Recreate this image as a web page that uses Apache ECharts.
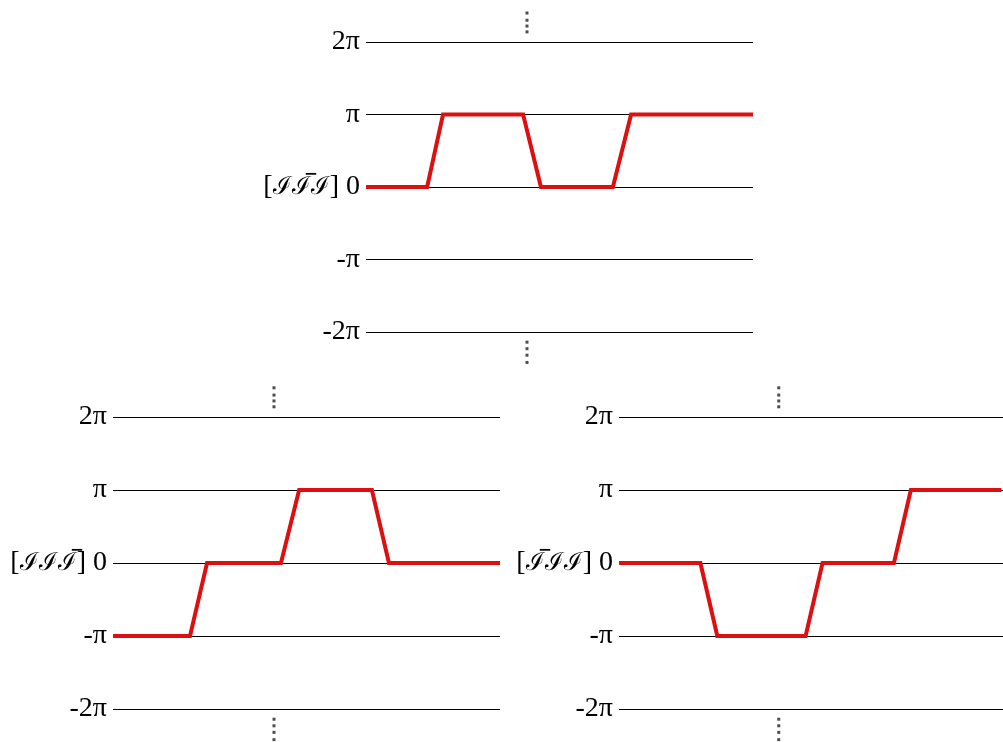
<!DOCTYPE html>
<html>
<head>
<meta charset="utf-8">
<script src="https://cdn.jsdelivr.net/npm/echarts@6/dist/echarts.min.js"></script>
<style>
html, body { margin: 0; padding: 0; background: #fff; }
#main { width: 1003px; height: 742px; }
</style>
</head>
<body>
<div id="main"></div>
<script>
// phase paths, x in percent of panel width, y in units of pi
var topX   = [0, 15.8, 19.9, 40.6, 45.2, 63.8, 68.5, 100];
var topY   = [0, 0, 1, 1, 0, 0, 1, 1];
var leftX  = [0, 19.9, 24.3, 43.4, 48.1, 66.9, 71.3, 100];
var leftY  = [-1, -1, 0, 0, 1, 1, 0, 0];
var rightX = [0, 21.2, 25.6, 48.6, 53.0, 71.6, 76.0, 99.6];
var rightY = [0, 0, -1, -1, 0, 0, 1, 1];

var tickLabels = {'2': '2π', '1': 'π', '-1': '-π', '-2': '-2π'};
// U+0305 combining overline gives the bar over a letter
var zeroLabels = ['ℐℐ\u0305ℐ', 'ℐℐℐ\u0305', 'ℐ\u0305ℐℐ'];

// vertical ellipsis above and below each panel
var dotX = 41.6;
var dotY = [2.14, 2.22, 2.30, 2.40, -2.14, -2.23, -2.32, -2.42];

var grids = [
    {left: 366, top: 42, width: 387, height: 290},
    {left: 113, top: 417, width: 387, height: 292},
    {left: 619, top: 417, width: 387, height: 292}
];
var paths = [[topX, topY], [leftX, leftY], [rightX, rightY]];

function pairs(xs, ys) {
    return xs.map(function (x, i) { return [x, ys[i]]; });
}

var xAxes = [], yAxes = [], series = [];
grids.forEach(function (g, i) {
    xAxes.push({gridIndex: i, type: 'value', min: 0, max: 100, show: false});
    yAxes.push({
        gridIndex: i, type: 'value', min: -2, max: 2, interval: 1,
        axisLine: {show: false},
        axisTick: {show: false},
        axisLabel: {
            margin: 6,
            color: '#000',
            fontFamily: 'Liberation Serif, DejaVu Serif, serif',
            fontSize: 28,
            formatter: function (v) {
                if (v === 0) return '[{s|' + zeroLabels[i] + '}] 0';
                return tickLabels[String(v)];
            },
            rich: {
                s: {
                    fontFamily: 'Liberation Serif',
                    fontSize: 25,
                    color: '#000'
                }
            }
        },
        splitLine: {lineStyle: {color: '#000', width: 1}}
    });
    series.push({
        type: 'line',
        xAxisIndex: i, yAxisIndex: i,
        data: pairs(paths[i][0], paths[i][1]),
        symbol: 'none',
        lineStyle: {color: '#dc1010', width: 4, join: 'miter'},
        z: 5
    });
    series.push({
        type: 'scatter',
        xAxisIndex: i, yAxisIndex: i,
        data: dotY.map(function (y) { return [dotX, y]; }),
        symbol: 'rect',
        symbolSize: 3,
        itemStyle: {color: '#222'},
        clip: false,
        silent: true
    });
});

var chart = echarts.init(document.getElementById('main'));
chart.setOption({
    animation: false,
    backgroundColor: '#fff',
    grid: grids,
    xAxis: xAxes,
    yAxis: yAxes,
    series: series
});
</script>
</body>
</html>
